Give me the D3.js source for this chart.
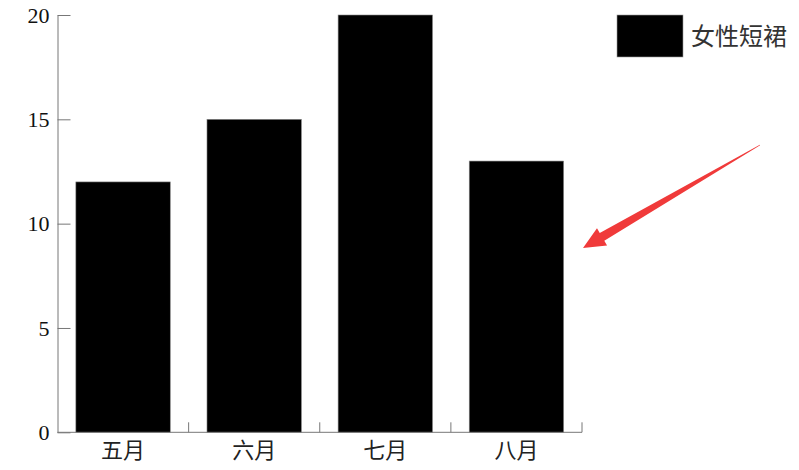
<!DOCTYPE html>
<html>
<head>
<meta charset="utf-8">
<script src="https://cdn.jsdelivr.net/npm/d3@7"></script>
<style>
  body { margin: 0; background: #fff; }
  svg { display: block; }
</style>
</head>
<body>
<div id="chart"></div>
<script>
// data
const months = ["五月", "六月", "七月", "八月"];
const sales = [12, 15, 20, 13];
const yTicks = [0, 5, 10, 15, 20];
const seriesName = "女性短裙";

const W = 799, H = 470;
const margin = {top: 15, right: 217, bottom: 38, left: 57.5};
const svg = d3.select("#chart").append("svg").attr("width", W).attr("height", H);

const x = d3.scaleBand()
    .domain(months)
    .range([margin.left, W - margin.right])
    .paddingInner(0.28)
    .paddingOuter(0.14);
const y = d3.scaleLinear()
    .domain([0, 20])
    .range([H - margin.bottom + 0.3, margin.top]);

const axisColor = "#777";
const numFont = "'Liberation Serif', 'DejaVu Serif', serif";
const cjkFont = "'Noto Sans CJK SC', sans-serif";

// bars
svg.selectAll("rect.bar")
    .data(months)
    .enter().append("rect")
    .attr("class", "bar")
    .attr("x", d => x(d))
    .attr("width", x.bandwidth())
    .attr("y", (d, i) => y(sales[i]))
    .attr("height", (d, i) => y(0) - y(sales[i]))
    .attr("fill", "#000")
    .attr("stroke", "#888")
    .attr("stroke-width", 0.6);

// y axis (ticks point inward)
const yAxis = svg.append("g")
    .attr("transform", `translate(${margin.left},0)`)
    .call(d3.axisRight(y).tickValues(yTicks).tickSize(13).tickFormat(d3.format("d")).tickSizeOuter(0));
yAxis.select(".domain").attr("stroke", axisColor);
yAxis.selectAll(".tick line").attr("stroke", axisColor);
yAxis.selectAll(".tick text")
    .attr("x", -8)
    .attr("text-anchor", "end")
    .attr("fill", "#111")
    .style("font-family", numFont)
    .style("font-size", "22px");

// x axis with ticks at band boundaries, pointing up
const xAxisG = svg.append("g").attr("transform", `translate(0,${y(0)})`);
xAxisG.append("line")
    .attr("x1", x.range()[0]).attr("x2", x.range()[1])
    .attr("stroke", axisColor);
const bounds = months.map((d, i) => x.range()[0] + x.step() * (i + 1));
xAxisG.selectAll("line.tk")
    .data(bounds)
    .enter().append("line")
    .attr("class", "tk")
    .attr("x1", d => d).attr("x2", d => d)
    .attr("y1", 0).attr("y2", -10)
    .attr("stroke", axisColor);
xAxisG.selectAll("text")
    .data(months)
    .enter().append("text")
    .attr("x", d => x(d) + x.bandwidth() / 2)
    .attr("y", 26)
    .attr("text-anchor", "middle")
    .attr("fill", "#222")
    .style("font-family", cjkFont)
    .style("font-size", "22px")
    .text(d => d);

// legend
const lg = svg.append("g").attr("transform", "translate(617,15)");
lg.append("rect")
    .attr("width", 66).attr("height", 42)
    .attr("fill", "#000")
    .attr("stroke", "#999")
    .attr("stroke-width", 0.6);
lg.append("text")
    .attr("x", 74).attr("y", 30)
    .attr("fill", "#333")
    .style("font-family", cjkFont)
    .style("font-size", "24px")
    .text(seriesName);

// red arrow annotation (tail -> tip)
const arrow = {tail: [760, 145], tip: [583, 248], headLen: 22, headHalf: 10, shaftTip: 4.5};
const dx = arrow.tip[0] - arrow.tail[0], dy = arrow.tip[1] - arrow.tail[1];
const len = Math.hypot(dx, dy);
const ux = dx / len, uy = dy / len, nx = -uy, ny = ux;
const bx = arrow.tip[0] - ux * arrow.headLen, by = arrow.tip[1] - uy * arrow.headLen;
const pts = [
    [arrow.tail[0] + nx * 0.3, arrow.tail[1] + ny * 0.3],
    [bx + nx * arrow.shaftTip, by + ny * arrow.shaftTip],
    [bx + nx * arrow.headHalf, by + ny * arrow.headHalf],
    arrow.tip,
    [bx - nx * arrow.headHalf, by - ny * arrow.headHalf],
    [bx - nx * arrow.shaftTip, by - ny * arrow.shaftTip],
    [arrow.tail[0] - nx * 0.3, arrow.tail[1] - ny * 0.3]
];
svg.append("path")
    .attr("d", d3.line()(pts) + "Z")
    .attr("fill", "#f03a3a");
</script>
</body>
</html>
